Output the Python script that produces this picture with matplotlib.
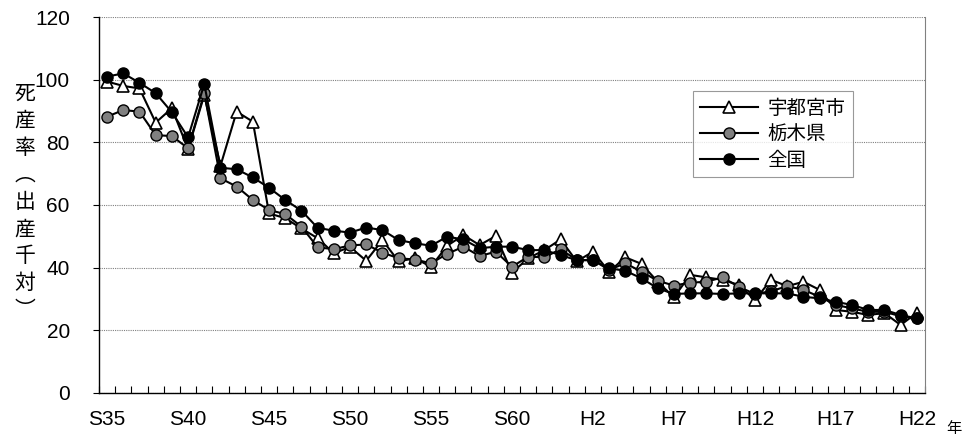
import matplotlib
matplotlib.use('Agg')
import matplotlib.pyplot as plt
import numpy as np

plt.rcParams['font.family'] = ['Noto Sans CJK JP', 'DejaVu Sans']

# S35 (1960) .. H22 (2010)
years = list(range(1960, 2011))
tick_labels = ['S35', 'S40', 'S45', 'S50', 'S55', 'S60', 'H2', 'H7', 'H12', 'H17', 'H22']

utsunomiya = [99.4, 98.0, 97.2, 86.3, 90.9, 77.8, 95.1, 72.5, 89.8, 86.6,
              57.3, 55.8, 52.5, 49.4, 44.6, 46.6, 42.2, 48.8, 42.0, 43.0,
              40.3, 47.0, 50.4, 47.2, 50.1, 38.4, 43.0, 45.6, 49.0, 42.0,
              45.1, 38.7, 43.3, 41.2, 35.5, 30.5, 37.7, 36.9, 36.1, 34.5,
              29.7, 36.1, 34.1, 35.5, 32.9, 26.5, 25.9, 24.9, 25.5, 21.7,
              25.6]
tochigi = [88.2, 90.3, 89.8, 82.3, 82.0, 78.1, 95.7, 68.5, 65.9, 61.6,
           58.4, 57.1, 53.1, 46.5, 45.9, 47.1, 47.4, 44.8, 43.0, 42.6,
           41.4, 44.4, 46.7, 43.7, 45.1, 40.3, 43.5, 43.3, 45.9, 42.4,
           42.4, 39.3, 41.4, 38.7, 35.8, 34.3, 35.2, 35.5, 36.9, 33.9,
           31.6, 32.5, 34.1, 32.9, 30.7, 28.1, 27.0, 25.9, 25.9, 24.5,
           23.8]
zenkoku = [101.0, 102.0, 99.0, 95.7, 89.6, 81.6, 98.6, 71.9, 71.4, 68.8,
           65.5, 61.6, 58.2, 52.7, 51.8, 51.2, 52.8, 52.0, 48.8, 47.8,
           47.0, 49.9, 49.0, 46.2, 46.7, 46.7, 45.6, 45.6, 44.0, 42.4,
           42.4, 39.8, 39.0, 36.6, 33.4, 31.6, 31.8, 31.8, 31.6, 31.8,
           31.8, 31.8, 31.8, 30.7, 30.2, 29.1, 28.1, 26.5, 26.5, 24.9,
           23.8]


def main():
    fig = plt.figure(figsize=(9.64, 4.42), dpi=100)
    ax = fig.add_axes([0.1027, 0.1109, 0.8568, 0.8506])
    x = np.arange(len(years))

    ax.plot(x, utsunomiya, color='black', lw=1.5, marker='^', ms=8,
            mfc='white', mec='black', mew=1.2, label='宇都宮市', zorder=3)
    ax.plot(x, tochigi, color='black', lw=1.5, marker='o', ms=8,
            mfc='#808080', mec='black', mew=1.0, label='栃木県', zorder=4)
    ax.plot(x, zenkoku, color='black', lw=1.5, marker='o', ms=8,
            mfc='black', mec='black', label='全国', zorder=5)

    ax.set_xlim(-0.5, len(years) - 0.5)
    ax.set_ylim(0, 120)
    ax.set_yticks(range(0, 121, 20))
    ax.yaxis.grid(True, color='#808080', linestyle=(0, (1, 1)), lw=0.8)
    ax.set_axisbelow(True)

    tick_font = ['Liberation Sans', 'DejaVu Sans']
    ax.set_xticks(x[::5])
    ax.set_xticklabels(tick_labels, family=tick_font, fontsize=15)
    ax.set_xticks(np.arange(-0.5, len(years)), minor=True)
    ax.tick_params(axis='x', which='major', length=0, pad=12)
    ax.tick_params(axis='x', which='minor', direction='in', length=5, width=0.8)
    ax.tick_params(axis='y', length=4, width=0.8, pad=17)
    for lab in ax.get_yticklabels():
        lab.set_family(tick_font)
        lab.set_fontsize(15)

    ax.spines['top'].set_visible(False)
    ax.spines['right'].set_color('#808080')
    ax.spines['left'].set_linewidth(1.0)
    ax.spines['bottom'].set_linewidth(1.0)

    # vertical y label
    fig.text(0.026, 0.543, '\n'.join('死産率︵出産千対︶'), ha='center', va='center',
             fontsize=15, linespacing=1.3)
    fig.text(0.99, 0.03, '年', ha='center', va='center', fontsize=11)

    leg = ax.legend(loc='upper left', bbox_to_anchor=(0.719, 0.803), fontsize=14,
                    frameon=True, fancybox=False, edgecolor='#808080',
                    handlelength=3.0, borderpad=0.35, labelspacing=0.25,
                    handletextpad=0.5, borderaxespad=0)
    leg.get_frame().set_linewidth(0.8)

    plt.savefig('out.png', dpi=100)


if __name__ == "__main__":
    main()
